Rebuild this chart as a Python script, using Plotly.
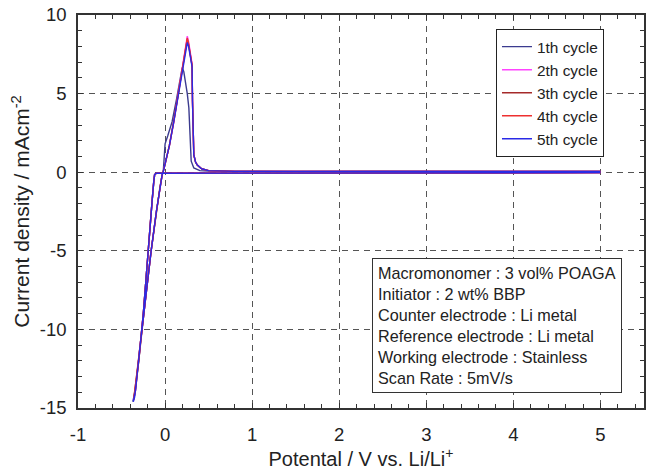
import plotly.graph_objects as go

# ---- data ----
cycle_names = ["1th cycle", "2th cycle", "3th cycle", "4th cycle", "5th cycle"]
cycle_colors = ["#3b3b8f", "#ff44ff", "#a52a2a", "#ee3030", "#2a2ae6"]

c1_v = [5.0, 4.0, 3.0, 2.0, 1.0, 0.5, 0.2, 0.0, -0.1, -0.12, -0.13, -0.15, -0.19, -0.25, -0.3, -0.35, -0.37,
        -0.34, -0.29, -0.23, -0.16, -0.1, -0.06, -0.035, -0.02, 0.0, 0.03, 0.08, 0.13, 0.17, 0.197,
        0.215, 0.235, 0.255, 0.273, 0.283, 0.29, 0.3, 0.33, 0.4, 0.5, 0.8, 1.5, 2.5, 3.5, 4.5, 5.0]
c1_i = [-0.03, -0.03, -0.04, -0.04, -0.05, -0.05, -0.06, -0.06, -0.07, -0.15, -0.6, -1.9, -5.0, -9.0, -11.9, -14.2, -14.6,
        -13.8, -11.2, -8.3, -5.0, -2.5, -1.0, -0.2, 0.1, 1.8, 2.3, 3.2, 4.6, 5.8, 6.65,
        6.4, 5.8, 5.0, 4.1, 2.6, 1.4, 0.7, 0.27, 0.1, 0.07, 0.05, 0.05, 0.06, 0.05, 0.05, 0.05]

c2_v = [5.0, 4.0, 3.0, 2.0, 1.0, 0.5, 0.2, 0.0, -0.1, -0.12, -0.13, -0.15, -0.19, -0.25, -0.3, -0.35, -0.365,
        -0.34, -0.29, -0.23, -0.16, -0.1, -0.06, -0.035, -0.02, 0.0, 0.05, 0.1, 0.15, 0.2, 0.24, 0.255,
        0.27, 0.3, 0.31, 0.315, 0.32, 0.33, 0.35, 0.37, 0.42, 0.5, 0.8, 1.5, 2.5, 3.5, 4.5, 5.0]
c2_i = [-0.03, -0.03, -0.04, -0.04, -0.05, -0.05, -0.06, -0.06, -0.07, -0.15, -0.6, -1.9, -5.0, -9.0, -11.8, -14.2, -14.5,
        -13.9, -11.2, -8.3, -5.0, -2.5, -1.0, -0.2, 0.05, 0.5, 1.7, 3.2, 4.9, 6.6, 8.2, 8.65,
        8.3, 7.4, 6.9, 4.5, 2.2, 1.1, 0.65, 0.45, 0.22, 0.1, 0.05, 0.05, 0.06, 0.05, 0.05, 0.05]

c3_v = [5.0, 4.0, 3.0, 2.0, 1.0, 0.5, 0.2, 0.0, -0.1, -0.12, -0.13, -0.15, -0.19, -0.25, -0.3, -0.35, -0.36,
        -0.34, -0.29, -0.23, -0.16, -0.1, -0.06, -0.035, -0.02, 0.0, 0.05, 0.1, 0.15, 0.2, 0.24, 0.255,
        0.27, 0.3, 0.31, 0.315, 0.32, 0.33, 0.35, 0.37, 0.42, 0.5, 0.8, 1.5, 2.5, 3.5, 4.5, 5.0]
c3_i = [-0.03, -0.03, -0.04, -0.04, -0.05, -0.05, -0.06, -0.06, -0.07, -0.15, -0.6, -1.9, -5.0, -9.0, -11.8, -14.1, -14.4,
        -13.9, -11.2, -8.3, -5.0, -2.5, -1.0, -0.2, 0.05, 0.5, 1.7, 3.2, 4.9, 6.6, 8.0, 8.45,
        8.1, 7.3, 6.8, 4.5, 2.2, 1.1, 0.65, 0.45, 0.22, 0.1, 0.05, 0.05, 0.06, 0.05, 0.05, 0.05]

c4_v = [5.0, 4.0, 3.0, 2.0, 1.0, 0.5, 0.2, 0.0, -0.1, -0.12, -0.13, -0.15, -0.19, -0.25, -0.3, -0.35, -0.36,
        -0.34, -0.29, -0.23, -0.16, -0.1, -0.06, -0.035, -0.02, 0.0, 0.05, 0.1, 0.15, 0.2, 0.24, 0.255,
        0.27, 0.3, 0.31, 0.315, 0.32, 0.33, 0.35, 0.37, 0.42, 0.5, 0.8, 1.5, 2.5, 3.5, 4.5, 5.0]
c4_i = [-0.03, -0.03, -0.04, -0.04, -0.05, -0.05, -0.06, -0.06, -0.07, -0.15, -0.6, -1.9, -5.0, -9.0, -11.8, -14.2, -14.5,
        -13.9, -11.2, -8.3, -5.0, -2.5, -1.0, -0.2, 0.05, 0.5, 1.7, 3.2, 4.9, 6.6, 8.1, 8.55,
        8.2, 7.3, 6.8, 4.5, 2.2, 1.1, 0.65, 0.45, 0.22, 0.1, 0.05, 0.05, 0.06, 0.05, 0.05, 0.05]

c5_v = [5.0, 4.0, 3.0, 2.0, 1.0, 0.5, 0.2, 0.0, -0.1, -0.12, -0.13, -0.15, -0.19, -0.25, -0.3, -0.35, -0.365,
        -0.34, -0.29, -0.23, -0.16, -0.1, -0.06, -0.035, -0.02, 0.0, 0.05, 0.1, 0.15, 0.2, 0.24, 0.255,
        0.27, 0.3, 0.31, 0.315, 0.32, 0.33, 0.35, 0.37, 0.42, 0.5, 0.8, 1.5, 2.5, 3.5, 4.5, 5.0]
c5_i = [-0.03, -0.03, -0.04, -0.04, -0.05, -0.05, -0.06, -0.06, -0.07, -0.15, -0.6, -1.9, -5.0, -9.0, -11.8, -14.3, -14.6,
        -13.9, -11.2, -8.3, -5.0, -2.5, -1.0, -0.2, 0.05, 0.5, 1.7, 3.2, 4.9, 6.6, 7.9, 8.25,
        8.0, 7.2, 6.7, 4.5, 2.2, 1.1, 0.65, 0.45, 0.22, 0.1, 0.05, 0.05, 0.06, 0.05, 0.05, 0.05]

cycles_v = [c1_v, c2_v, c3_v, c4_v, c5_v]
cycles_i = [c1_i, c2_i, c3_i, c4_i, c5_i]

x_ticks = [-1, 0, 1, 2, 3, 4, 5]
y_ticks = [-15, -10, -5, 0, 5, 10]

info_lines = ["Macromonomer : 3 vol% POAGA",
              "Initiator : 2 wt% BBP",
              "Counter electrode : Li metal",
              "Reference electrode : Li metal",
              "Working electrode : Stainless",
              "Scan Rate : 5mV/s"]

FONT = "Liberation Sans, Arial, sans-serif"

fig = go.Figure()
for name, col, v, i in zip(cycle_names, cycle_colors, cycles_v, cycles_i):
    fig.add_trace(go.Scatter(x=v, y=i, mode="lines", name=name,
                             line=dict(color=col, width=1.4)))

axis_common = dict(
    showline=True, linecolor="#333", linewidth=1.5, mirror="ticks",
    ticks="inside", ticklen=5, tickwidth=1, tickcolor="#333",
    showgrid=True, gridcolor="#555", gridwidth=1.3, griddash="6px,5px",
    zeroline=False, automargin=False,
    tickfont=dict(family=FONT, size=18.5, color="#222"),
)

fig.update_xaxes(range=[-1, 5.5], tickvals=x_ticks, ticktext=[str(t) for t in x_ticks],
                 ticklabelstandoff=9,
                 minor=dict(dtick=0.2, tick0=-1, ticks="inside", ticklen=4, tickcolor="#333", showgrid=False),
                 title=dict(text="Potental / V vs. Li/Li<sup>+</sup>", font=dict(family=FONT, size=20, color="#222"),
                            standoff=12),
                 **axis_common)
fig.update_yaxes(range=[-15, 10], tickvals=y_ticks, ticktext=[str(t) for t in y_ticks],
                 ticklabelstandoff=6,
                 minor=dict(dtick=1, tick0=0, ticks="inside", ticklen=4, tickcolor="#333", showgrid=False),
                 title=dict(text="Current density / mAcm<sup>-2</sup>", font=dict(family=FONT, size=21, color="#222"),
                            standoff=4),
                 **axis_common)

fig.add_annotation(xref="paper", yref="paper", x=0.5195, y=0.038, xanchor="left", yanchor="bottom",
                   text="<br>".join(info_lines), align="left", showarrow=False,
                   font=dict(family=FONT, size=16.2, color="#222"),
                   bordercolor="#333", borderwidth=1, borderpad=5, bgcolor="white")

fig.update_layout(
    width=650, height=470,
    margin=dict(l=78, r=6, t=15, b=62),
    paper_bgcolor="white", plot_bgcolor="white",
    showlegend=True,
    legend=dict(x=0.7385, y=0.964, xanchor="left", yanchor="top",
                bordercolor="#222", borderwidth=1, bgcolor="white",
                font=dict(family=FONT, size=15.4, color="#222"),
                traceorder="normal"),
)

# remove the browser's default 8px page margin so the 650x470 figure fills the window exactly
fig.write_html("out.html",
               config={"displayModeBar": False},
               post_script="document.body.style.margin='0';document.body.style.overflow='hidden';")
